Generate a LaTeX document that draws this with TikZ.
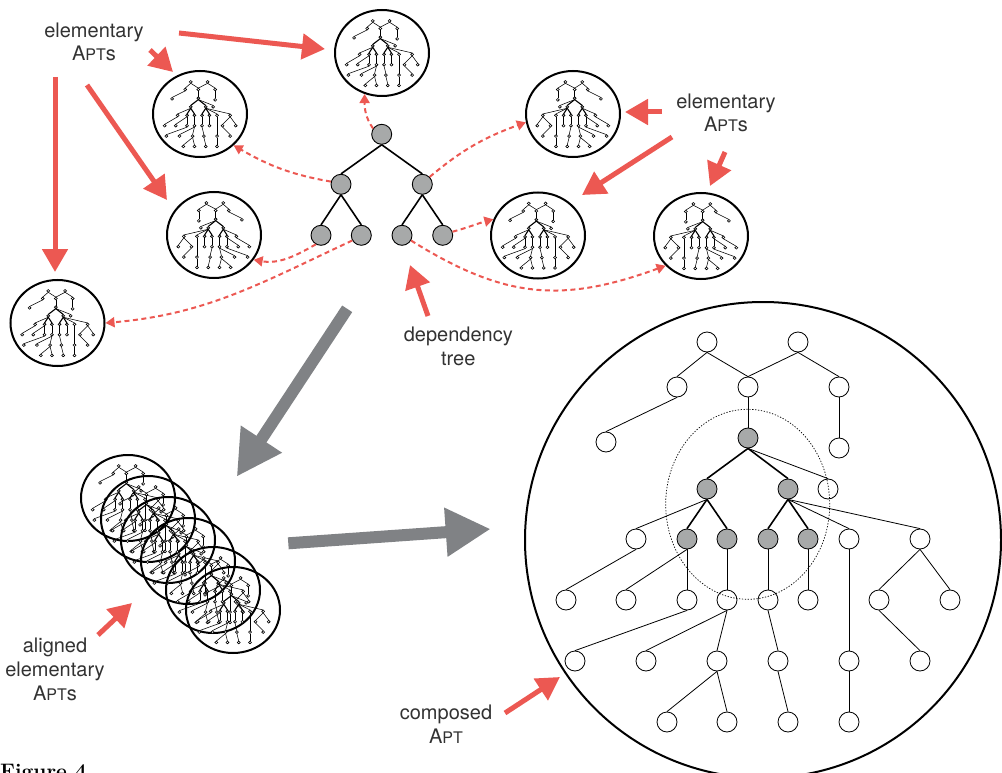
\documentclass[tikz,border=0pt]{standalone}
\usepackage{fontspec}
\setsansfont{TeX Gyre Heros}
\usetikzlibrary{arrows.meta,shapes.geometric}
\definecolor{redc}{RGB}{236,88,82}
\definecolor{garrow}{RGB}{128,130,133}
\definecolor{nodegray}{RGB}{167,169,169}
\definecolor{txt}{RGB}{50,50,50}
\newcommand{\aptsc}{A{\fontsize{16}{16}\selectfont PT}}
\tikzset{apt/.pic={
  \foreach \n/\x/\y in {t1/-50/189,t2/41/189,a/-80/144,b/-9/144,c/82/144,d/-151/89,e/82/83,f/71/42,h/-121/-8,i/92/-8,j/163/-8,k1/-191/-69,k2/-131/-69,k3/-70/-69,k4/-30/-69,k5/11/-69,k6/51/-69,k7/122/-69,k8/193/-69,m1/-182/-130,m2/-111/-130,m3/-40/-130,m4/21/-130,m5/92/-130,m6/163/-130,n1/-90/-191,n2/-30/-191,n3/31/-191,n4/92/-191}
    \node[aptnode] (-\n) at (\x,\y) {};
  \foreach \n/\x/\y in {g0/-9/93,g1/-50/42,g2/31/42,g3/-70/-8,g4/-30/-8,g5/11/-8,g6/51/-8}
    \node[aptgray] (-\n) at (\x,\y) {};
  \foreach \p/\q in {t1/a,t1/b,t2/b,t2/c,a/d,b/g0,c/e,g0/f,g1/h,g2/i,g2/j,h/k1,g3/k2,g3/k3,g4/k4,g5/k5,g6/k6,i/m5,m5/n4,j/k7,j/k8,k7/m6,k3/m1,k4/m2,k4/m3,k5/m4,m3/n1,m3/n2,m4/n3}
    \draw[aptthin] (-\p.south) -- (-\q.north);
  \foreach \p/\q in {g0/g1,g0/g2,g1/g3,g1/g4,g2/g5,g2/g6}
    \draw[aptthick] (-\p.south) -- (-\q.north);
}}
\begin{document}
\begin{tikzpicture}[x=1pt,y=1pt,
  lbl/.style={font=\sffamily\fontsize{20}{24}\selectfont, text=txt, inner sep=0pt, anchor=base},
  aptnode/.style={circle, draw=black, line width=0.8pt, fill=white, minimum size=20pt, inner sep=0pt},
  aptgray/.style={aptnode, fill=nodegray},
  aptthin/.style={line width=0.8pt},
  aptthick/.style={line width=1.6pt},
  aptsmall/.style={xscale=0.185, yscale=0.17, transform shape,
     aptnode/.style={circle, draw=black, line width=0.6pt, fill=white, minimum size=16pt, inner sep=0pt},
     aptthin/.style={line width=0.55pt},
     aptthick/.style={line width=1.1pt}},
  aptell/.style={ellipse, draw=black, line width=2pt, minimum width=94pt, minimum height=86pt, inner sep=0pt},
  depnode/.style={circle, draw=black, line width=0.9pt, fill=nodegray, minimum size=20pt, inner sep=0pt},
  depedge/.style={line width=1.6pt},
  redarrow/.style={draw=redc, line width=5pt, -{Triangle[length=23pt,width=25pt]}},
  reddash/.style={draw=redc, line width=2pt, dash pattern=on 5pt off 3.5pt, -{Triangle[length=9pt,width=10pt]}},
  grayarr/.style={draw=garrow, line width=12pt, -{Triangle[length=45pt,width=46pt]}},
]
\useasboundingbox (0,-773) rectangle (1002,0);

% composed APT
\node[circle, draw=black, line width=2pt, minimum size=476pt, inner sep=0pt] (bigc) at (763,-540) {};
\pic (big) at (757,-531) {apt};
\draw[line width=0.7pt, dash pattern=on 1.3pt off 1.6pt] (747.7,-504.3) ellipse [x radius=82, y radius=95];

% elementary APTs
\pic[aptsmall] (aTt) at (382,-53) {apt};
\node[aptell] (aT) at (382,-53) {};
\pic[aptsmall] (aTLt) at (200,-114) {apt};
\node[aptell] (aTL) at (200,-114) {};
\pic[aptsmall, xscale=-1] (aL2t) at (214,-235) {apt};
\node[aptell] (aL2) at (214,-235) {};
\pic[aptsmall] (aLt) at (57.5,-323) {apt};
\node[aptell] (aL) at (57.5,-323) {};
\pic[aptsmall, xscale=-1] (aR1t) at (573,-114) {apt};
\node[aptell] (aR1) at (573,-114) {};
\pic[aptsmall] (aR2t) at (538,-235.5) {apt};
\node[aptell] (aR2) at (538,-235.5) {};
\pic[aptsmall, xscale=-1] (aR3t) at (701,-236) {apt};
\node[aptell] (aR3) at (701,-236) {};

% aligned stack
\pic[aptsmall] (s1t) at (128,-498) {apt};
\node[aptell] (s1) at (128,-498) {};
\pic[aptsmall] (s2t) at (148,-519) {apt};
\node[aptell] (s2) at (148,-519) {};
\pic[aptsmall] (s3t) at (168,-540) {apt};
\node[aptell] (s3) at (168,-540) {};
\pic[aptsmall] (s4t) at (188,-561) {apt};
\node[aptell] (s4) at (188,-561) {};
\pic[aptsmall] (s5t) at (213,-590) {apt};
\node[aptell] (s5) at (213,-590) {};
\pic[aptsmall] (s6t) at (233,-610) {apt};
\node[aptell] (s6) at (233,-610) {};

% dependency tree
\node[depnode] (r) at (381.7,-134.3) {};
\node[depnode] (d1) at (341,-184.3) {};
\node[depnode] (d2) at (422.3,-184.3) {};
\node[depnode] (l1) at (321,-235.3) {};
\node[depnode] (l2) at (361.3,-235.3) {};
\node[depnode] (l3) at (402,-235.3) {};
\node[depnode] (l4) at (442.7,-235.3) {};
\draw[depedge] (r.south) -- (d1.north);
\draw[depedge] (r.south) -- (d2.north);
\draw[depedge] (d1.south) -- (l1.north);
\draw[depedge] (d1.south) -- (l2.north);
\draw[depedge] (d2.south) -- (l3.north);
\draw[depedge] (d2.south) -- (l4.north);

% dashed links
\draw[reddash] (r.146) to[out=125,in=-90] (aT.-113);
\draw[reddash] (d1.165) to[out=170,in=-30] (aTL.-43);
\draw[reddash] (d2.45) to[out=40,in=200] (aR1.190);
\draw[reddash] (l1.-120) to[out=-150,in=-10] (aL2.-32);
\draw[reddash] (l2.-150) to[out=-155,in=5] (aL.0);
\draw[reddash] (l3.-30) to[out=-32,in=200,looseness=1.1] (aR3.-140);
\draw[reddash] (l4.20) to[out=15,in=195] (aR2.160);

% red pointer arrows
\coordinate (ra1s) at (179,-33);  \coordinate (ra1e) at (325,-49);
\coordinate (ra2s) at (150,-50);  \coordinate (ra2e) at (173,-72);
\coordinate (ra3s) at (87,-85);   \coordinate (ra3e) at (167,-200);
\coordinate (ra4s) at (55,-77);   \coordinate (ra4e) at (55,-272);
\coordinate (ra5s) at (662,-112); \coordinate (ra5e) at (625,-112);
\coordinate (ra6s) at (672,-137); \coordinate (ra6e) at (582,-195);
\coordinate (ra7s) at (725,-152); \coordinate (ra7e) at (710,-186);
\coordinate (ra8s) at (428,-316); \coordinate (ra8e) at (410,-265);
\coordinate (ra9s) at (98,-635);  \coordinate (ra9e) at (132,-603);
\coordinate (ra10s) at (505,-713); \coordinate (ra10e) at (560,-677);
\foreach \k in {1,...,10} \draw[redarrow] (ra\k s) -- (ra\k e);

% gray arrows
\coordinate (g1s) at (347.2,-308.8); \coordinate (g1e) at (236.7,-476.7);
\coordinate (g2s) at (288.3,-543.3); \coordinate (g2e) at (490.7,-529);
\draw[grayarr] (g1s) -- (g1e);
\draw[grayarr] (g2s) -- (g2e);

% labels
\node[lbl] (tl1) at (94,-37.7) {elementary};
\node[lbl] (tl2) at (94,-61) {\aptsc s};
\node[lbl] (tr1) at (726,-108.3) {elementary};
\node[lbl] (tr2) at (726,-131.7) {\aptsc s};
\node[lbl] (td1) at (458.3,-341.7) {dependency};
\node[lbl] (td2) at (458.3,-365) {tree};
\node[lbl] (ta1) at (55,-652.5) {aligned};
\node[lbl] (ta2) at (55,-676) {elementary};
\node[lbl] (ta3) at (55,-700) {\aptsc s};
\node[lbl] (tc1) at (446,-719.5) {composed};
\node[lbl] (tc2) at (446,-743) {\aptsc};
\node[font=\rmfamily\bfseries\fontsize{21}{24}\selectfont, anchor=base west, inner sep=0pt] (fig) at (0,-778) {Figure 4};
\end{tikzpicture}
\end{document}
